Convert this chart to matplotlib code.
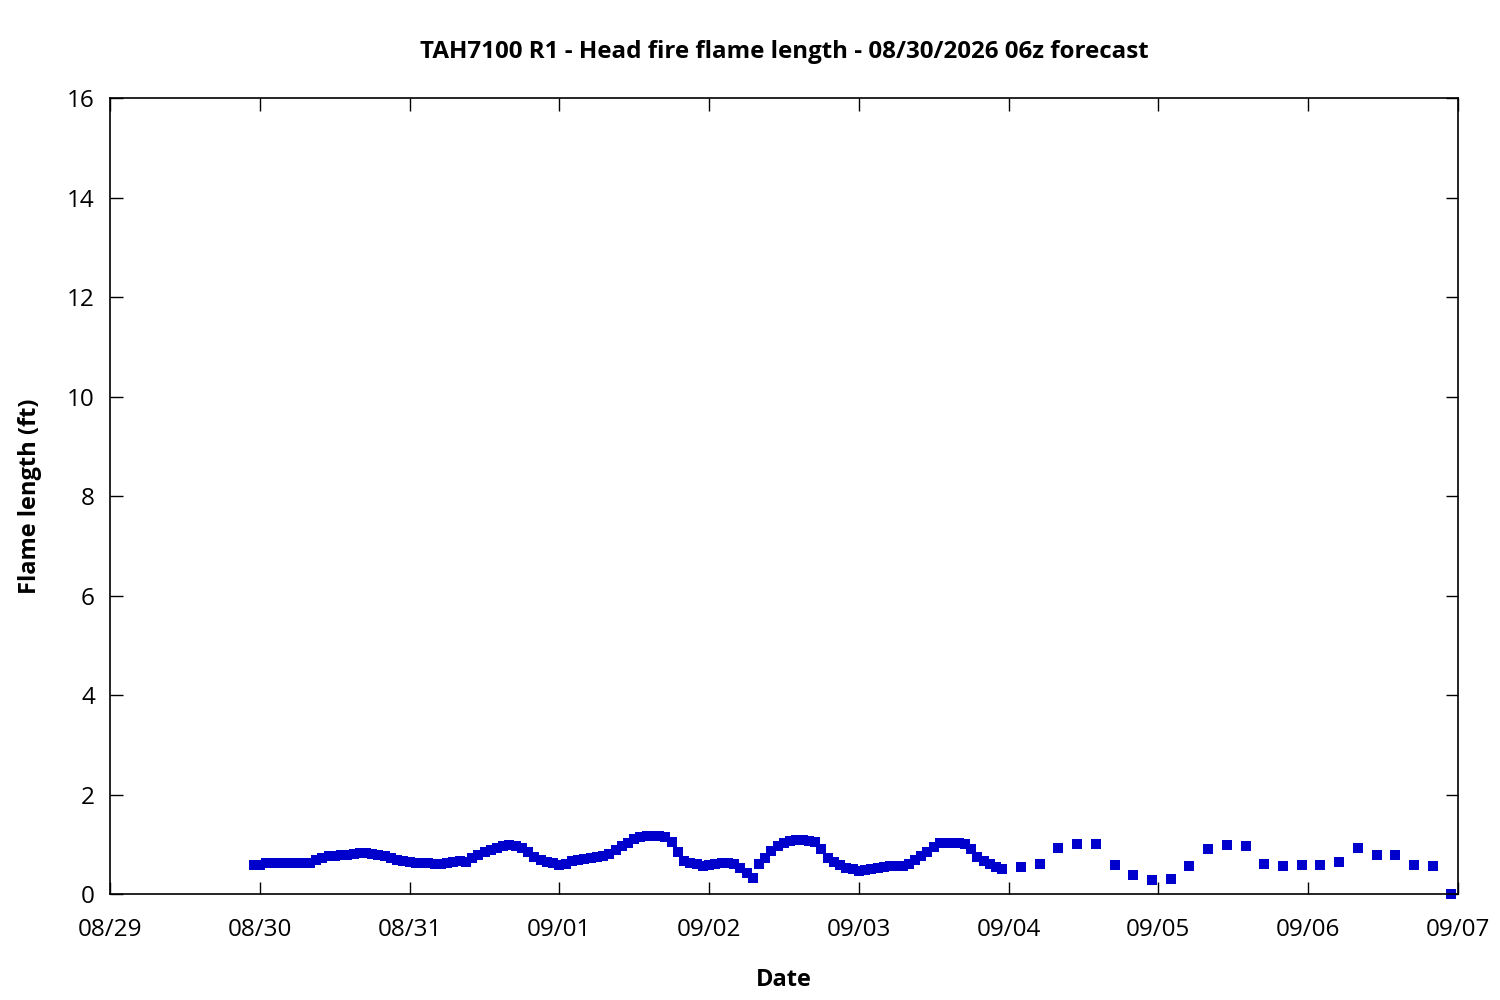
import matplotlib
matplotlib.use("Agg")
import matplotlib.pyplot as plt
import matplotlib.dates as mdates
import pandas as pd

plt.rcParams['font.family'] = ['Open Sans', 'Noto Sans', 'DejaVu Sans']

title = "TAH7100 R1 - Head fire flame length - 08/30/2026 06z forecast"
xlabel = "Date"
ylabel = "Flame length (ft)"

# hourly values from 2026-08-29 23:00 to 2026-09-03 23:00
hourly_start = "2026-08-29 23:00"
hourly_values = [
    0.58, 0.59, 0.62, 0.62, 0.62, 0.63, 0.62, 0.62, 0.63, 0.63,
    0.68, 0.73, 0.76, 0.77, 0.78, 0.79, 0.81, 0.82, 0.82, 0.81,
    0.79, 0.76, 0.72, 0.69, 0.67, 0.64, 0.63, 0.63, 0.62, 0.61,
    0.61, 0.63, 0.65, 0.66, 0.65, 0.72, 0.79, 0.84, 0.88, 0.92,
    0.96, 0.98, 0.97, 0.92, 0.85, 0.75, 0.68, 0.65, 0.63, 0.59,
    0.61, 0.66, 0.69, 0.71, 0.73, 0.75, 0.77, 0.80, 0.88, 0.96,
    1.03, 1.10, 1.15, 1.17, 1.17, 1.16, 1.14, 1.05, 0.85, 0.67,
    0.63, 0.60, 0.57, 0.58, 0.60, 0.62, 0.63, 0.60, 0.53, 0.42,
    0.33, 0.60, 0.72, 0.87, 0.97, 1.03, 1.06, 1.08, 1.08, 1.07,
    1.05, 0.90, 0.72, 0.64, 0.58, 0.53, 0.50, 0.47, 0.48, 0.50,
    0.52, 0.54, 0.56, 0.56, 0.57, 0.60, 0.68, 0.77, 0.85, 0.95,
    1.02, 1.03, 1.03, 1.03, 1.00, 0.90, 0.75, 0.66, 0.60, 0.55,
    0.51,
]

# 3-hourly values from 2026-09-04 02:00 to 2026-09-06 23:00
threehourly_start = "2026-09-04 02:00"
threehourly_values = [
    0.54, 0.60, 0.92, 1.00, 1.00, 0.58, 0.38, 0.28, 0.30, 0.56,
    0.90, 0.98, 0.96, 0.60, 0.56, 0.58, 0.58, 0.64, 0.92, 0.78,
    0.78, 0.58, 0.56, 0.00,
]

yticks = [0, 2, 4, 6, 8, 10, 12, 14, 16]

t1 = pd.date_range(hourly_start, periods=len(hourly_values), freq="h")
t2 = pd.date_range(threehourly_start, periods=len(threehourly_values), freq="3h")
times = list(t1) + list(t2)
values = hourly_values + threehourly_values

fig = plt.figure(figsize=(15, 10), dpi=100)
ax = fig.add_axes([0.0735, 0.106, 0.8983, 0.7957])

ax.plot(times, values, linestyle='none', marker='s', markersize=6.5,
        color='#0000cc', markeredgewidth=0, clip_on=False)

ax.set_xlim(pd.Timestamp("2026-08-29"), pd.Timestamp("2026-09-07"))
ax.set_ylim(0, 16)
ax.set_yticks(yticks)
ax.xaxis.set_major_locator(mdates.DayLocator())
ax.xaxis.set_major_formatter(mdates.DateFormatter('%m/%d'))

ax.tick_params(direction='in', length=9, width=1, top=True, right=True,
               labelsize=17.5)
ax.tick_params(axis='y', pad=11)
ax.tick_params(axis='x', pad=17)
for s in ax.spines.values():
    s.set_linewidth(1.2)

ax.set_title(title, fontsize=17.4, fontweight='bold', pad=29)
ax.set_xlabel(xlabel, fontsize=17, fontweight='bold', labelpad=19)
ax.set_ylabel(ylabel, fontsize=17, fontweight='bold', labelpad=18)

fig.savefig("out.png", dpi=100)
